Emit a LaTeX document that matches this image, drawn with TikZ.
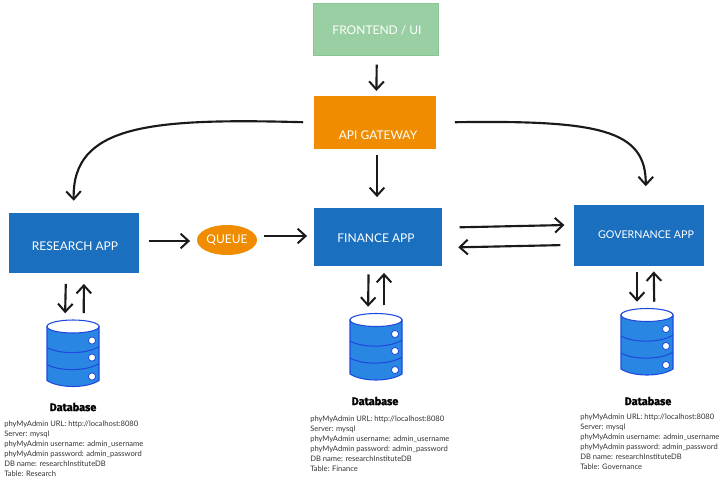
\documentclass[tikz,border=0pt]{standalone}
\usepackage{fontspec}
\setmainfont{Lato}
\newfontfamily\titlefont[BoldFeatures={FakeBold=1.6}]{Fira Sans}
\usepackage{tikz}
\usetikzlibrary{positioning}
\usetikzlibrary{shapes.geometric}
\usetikzlibrary{arrows.meta}
\definecolor{appblue}{HTML}{1A6FBF}
\definecolor{gateorange}{HTML}{F08C00}
\definecolor{frontgreen}{HTML}{99CFA3}
\definecolor{frontedge}{HTML}{86C693}
\definecolor{dbfill}{HTML}{2A86E3}
\definecolor{dbedge}{HTML}{1F49DD}
\definecolor{inkblack}{HTML}{1A1A1A}
\definecolor{notegray}{HTML}{333333}
\tikzset{
	appbox/.style = {fill = appblue, rectangle, inner sep = 0pt},
	boxtext/.style = {text = white, font = \fontsize{9}{11}\selectfont, inner sep = 0pt},
	flow/.style = {draw = inkblack, line width = 1.6pt, -{Straight Barb[length = 6pt,width = 11pt,line width = 1.5pt]}},
	dbtitle/.style = {font = \fontsize{8.2}{10}\selectfont\titlefont\bfseries, inner sep = 0pt},
	dbnote/.style = {font = \fontsize{5.67}{7.5}\selectfont, text = notegray, align = left, inner sep = 0pt, anchor = north west},
	dbslot/.style = {rectangle, minimum width = 39pt, minimum height = 50pt, inner sep = 0pt},
	pics/dbstack/.style = {code = {
		\draw[fill = dbfill, draw = dbedge, line width = .8pt] (-26,-27) -- (-26,27) .. controls (-14,35) and (14,35) .. (26,27) -- (26,-27) -- cycle;
		\draw[fill = white, draw = dbedge, line width = .8pt] (0,-27) ellipse [x radius = 26, y radius = 6.5];
		\draw[draw = dbedge, line width = .8pt] (-26,-6) .. controls (-14,1) and (14,1) .. (26,-7);
		\draw[draw = dbedge, line width = .8pt] (-26,11) .. controls (-14,18) and (14,18) .. (26,10);
		\foreach \doty in {-13,4,23} {
			\draw[fill = white, draw = dbedge, line width = .6pt] (19,\doty) circle [radius = 3.6];
		}
	}}
}
\begin{document}
\begin{tikzpicture}[x = .75pt,y = -.75pt]
	\useasboundingbox (0,0) rectangle (724,482);
	\node[appbox, fill = frontgreen, draw = frontedge, minimum width = 93.5pt, minimum height = 39pt] at (375.5,29) (frontend) {};
	\node[appbox, fill = gateorange, minimum width = 91.5pt, minimum height = 40pt] at (375,122.5) (gateway) {};
	\node[appbox, minimum width = 97.5pt, minimum height = 45pt] at (74,243) (research) {};
	\node[appbox, minimum width = 96pt, minimum height = 43.5pt] at (378,237) (finance) {};
	\node[appbox, minimum width = 97.5pt, minimum height = 45.5pt] at (639,235.5) (governance) {};
	\node[boxtext] at (377,30) (frontendtext) {FRONTEND / UI};
	\node[boxtext] at (378,135) (gatewaytext) {API GATEWAY};
	\node[boxtext] at (75,246) (researchtext) {RESEARCH APP};
	\node[boxtext] at (376,238) (financetext) {FINANCE APP};
	\node[boxtext, font = \fontsize{8}{10}\selectfont] at (646,235) (governancetext) {GOVERNANCE APP};
	\node[boxtext, fill = gateorange, ellipse, minimum width = 45pt, minimum height = 22.5pt] at (227,240) (queue) {QUEUE};
	% database stacks
	\node[dbslot] at (73,353.5) (dbresearch) {};
	\node[dbslot] at (376,347) (dbfinance) {};
	\node[dbslot] at (647,342) (dbgovernance) {};
	\pic at (dbresearch) {dbstack};
	\pic at (dbfinance) {dbstack};
	\pic at (dbgovernance) {dbstack};
	\node[dbtitle] at (73,407) (titleresearch) {Database};
	\node[dbtitle] at (375,401) (titlefinance) {Database};
	\node[dbtitle] at (648,401) (titlegovernance) {Database};
	\node[dbnote] at (4,420.5) (noteresearch) {phyMyAdmin URL: http://localhost:8080\\Server: mysql\\phyMyAdmin username: admin\_username\\phyMyAdmin password: admin\_password\\DB name: researchInstituteDB\\Table: Research};
	\node[dbnote] at (310,416) (notefinance) {phyMyAdmin URL: http://localhost:8080\\Server: mysql\\phyMyAdmin username: admin\_username\\phyMyAdmin password: admin\_password\\DB name: researchInstituteDB\\Table: Finance};
	\node[dbnote] at (580,414) (notegovernance) {phyMyAdmin URL: http://localhost:8080\\Server: mysql\\phyMyAdmin username: admin\_username\\phyMyAdmin password: admin\_password\\DB name: researchInstituteDB\\Table: Governance};
	% connectors
	\draw[flow, shorten < = 7pt, shorten > = 3.5pt] ([xshift = 1pt]frontend.south) to ([xshift = 1pt]gateway.north);
	\draw[flow, shorten < = 4.5pt, shorten > = 8pt] ([xshift = 1.5pt]gateway.south) to ([xshift = -.75pt]finance.north);
	\draw[flow, shorten < = 8pt, shorten > = 9pt] (gateway.west) .. controls (150,118) and (72,125) .. (research.north);
	\draw[flow, shorten < = 14pt, shorten > = 14pt] (gateway.east) .. controls (600,120) and (646,130) .. ([xshift = 5pt]governance.north);
	\draw[flow, shorten < = 7pt, shorten > = 5pt] ([yshift = 1.5pt]research.east) to ([yshift = -.75pt]queue.west);
	\draw[flow, shorten < = 5pt, shorten > = 5pt] ([yshift = 3pt]queue.east) to ([yshift = .75pt]finance.west);
	\draw[flow, shorten < = 13pt, shorten > = 7pt] ([yshift = 7pt]finance.east) to ([yshift = 8pt]governance.west);
	\draw[flow, shorten < = 10pt, shorten > = 12pt] ([yshift = -7pt]governance.west) to ([yshift = -8pt]finance.east);
	\draw[flow, shorten < = 8pt, shorten > = 5pt] ([xshift = -6pt]research.south) to ([xshift = -6pt]dbresearch.north);
	\draw[flow, shorten < = 5pt, shorten > = 8pt] ([xshift = 8pt]dbresearch.north) to ([xshift = 7.5pt]research.south);
	\draw[flow, shorten < = 6pt, shorten > = 5pt] ([xshift = -7pt]finance.south) to ([xshift = -6pt]dbfinance.north);
	\draw[flow, shorten < = 6pt, shorten > = 5pt] ([xshift = 6pt]dbfinance.north) to ([xshift = 4.5pt]finance.south);
	\draw[flow, shorten < = 4.5pt, shorten > = 5pt] ([xshift = -1.5pt]governance.south) to ([xshift = -7.5pt]dbgovernance.north);
	\draw[flow, shorten < = 5pt, shorten > = 4pt] ([xshift = 5.5pt]dbgovernance.north) to ([xshift = 11pt]governance.south);
\end{tikzpicture}
\end{document}
